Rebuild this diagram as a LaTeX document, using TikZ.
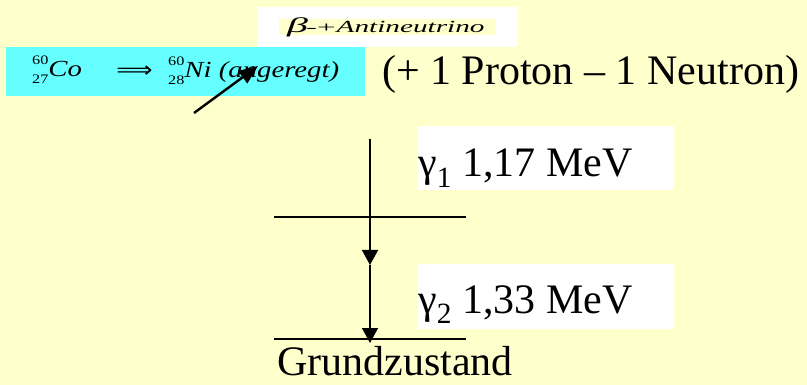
\documentclass[tikz,border=0pt]{standalone}
\usepackage{fontspec}
\setmainfont{Liberation Serif}
\newfontfamily\symfont{DejaVu Sans}
\usetikzlibrary{arrows.meta}
\definecolor{bgyellow}{HTML}{FFFFCC}
\definecolor{boxcyan}{HTML}{66FFFF}
\newcommand{\isotop}[2]{\makebox[0pt][l]{\raisebox{0.55em}{\fontsize{13}{13}\selectfont #1}}\raisebox{-0.3em}{\fontsize{13}{13}\selectfont #2}}
\begin{document}
\begin{tikzpicture}[x=1pt,y=-1pt,
  big/.style={inner sep=0pt,font=\fontsize{42}{48}\selectfont},
  whitebox/.style={fill=white,draw=none,inner sep=0pt},
  level/.style={line width=1.5pt},
  decay/.style={line width=1.5pt,-{Triangle[length=15pt,width=16pt]}},
  pointer/.style={line width=2.4pt,-{Triangle[length=19pt,width=15pt]}}]
\useasboundingbox (0,0) rectangle (807,385);
\fill[bgyellow] (0,0) rectangle (807,385);
% antineutrino box
\node[whitebox,minimum width=261pt,minimum height=40pt] (wbox) at (387.5,27) {};
\node[fill=bgyellow,inner sep=0pt,minimum width=217pt,minimum height=16pt] (strip) at (387.5,27) {};
\node[inner sep=0pt,anchor=base west] (anti) at (287,33)
  {\scalebox{2.0}[1]{\fontsize{21}{21}\selectfont\itshape β}\kern-2pt\scalebox{2.2}[1]{\fontsize{15}{15}\selectfont -+}\kern1pt\scalebox{1.72}[1]{\fontsize{17}{17}\selectfont\itshape Antineutrino}};
% cyan reaction box
\node[fill=boxcyan,inner sep=0pt,minimum width=359pt,minimum height=49pt] (cbox) at (185.5,71.5) {};
\node[inner sep=0pt,anchor=base west] (co) at (32,77)
  {\scalebox{1.25}[1]{\fontsize{23}{23}\selectfont\isotop{60}{27}\itshape Co}};
\node[inner sep=0pt,anchor=center] (imp) at (134.5,72)
  {\scalebox{1.15}[1]{\fontsize{22}{22}\selectfont\symfont ⟹}};
\node[inner sep=0pt,anchor=base west] (ni) at (168,78)
  {\scalebox{1.25}[1]{\fontsize{23}{23}\selectfont\isotop{60}{28}\itshape Ni (angeregt)}};
\coordinate (ptail) at (194,113);
\coordinate (phead) at (258,66);
\draw[pointer] (ptail) -- (phead);
% proton text
\node[big,anchor=base west] (pn) at (382,85) {(+ 1 Proton – 1 Neutron)};
% gamma boxes
\node[whitebox,minimum width=257pt,minimum height=64pt] (g1box) at (545.5,158) {};
\node[big,anchor=base west] (g1) at (418,177) {γ\textsubscript{1} 1,17 MeV};
\node[whitebox,minimum width=257pt,minimum height=65pt] (g2box) at (545.5,296.5) {};
\node[big,anchor=base west] (g2) at (418,313) {γ\textsubscript{2} 1,33 MeV};
% levels
\coordinate (l1a) at (274,217);
\coordinate (l1b) at (466,217);
\coordinate (l2a) at (274,339);
\coordinate (l2b) at (466,339);
\draw[level] (l1a) -- (l1b);
\draw[level] (l2a) -- (l2b);
\coordinate (vtop) at (370,139);
\coordinate (vmid) at (370,265);
\coordinate (vbot) at (370,343);
\draw[decay] (vtop) -- (vmid);
\draw[decay] (vmid) -- (vbot);
\node[big,anchor=base west] (gz) at (277,375) {Grundzustand};
\end{tikzpicture}
\end{document}
